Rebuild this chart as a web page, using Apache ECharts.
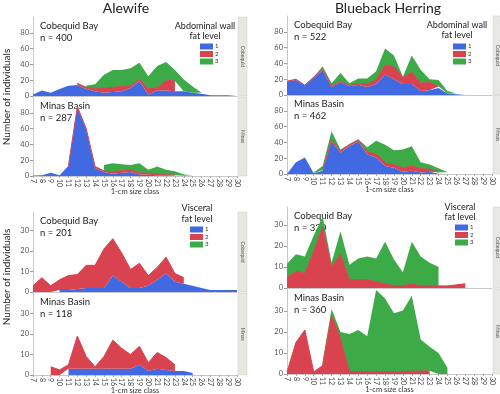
<!DOCTYPE html>
<html><head><meta charset="utf-8">
<script src="https://cdn.jsdelivr.net/npm/echarts@6/dist/echarts.min.js"></script>
<style>html,body{margin:0;padding:0;background:#fff}#c{width:500px;height:394px}</style>
</head><body><div id="c"></div>
<script>
// ---- categories / ticks ----
const sizeClasses = ['7','8','9','10','11','12','13','14','15','16','17','18','19','20','21','22','23','24','25','26','27','28','29','30'];
const ticksAbdominal = [0,20,40,60,80];
const ticksVisceral = [0,10,20,30];
const levelNames = ['1','2','3'];

// ---- Alewife, abdominal wall fat, Cobequid Bay (n=400) ----
const aleAbdCobBlue  = [2,7,4,9,13,14,9,6,4,5,6,10,19,2,7,7,6,6,4,3,1,1,1,1];
const aleAbdCobRed   = [null,null,null,null,null,2,2,3,6,6,6,3,2,7,3,13,13,null,null,null,null,null,null,null];
const aleAbdCobGreen = [null,null,null,null,null,null,2,6,17,22,21,22,21,16,28,23,14,15,8,1,null,null,null,null];
// ---- Alewife, abdominal, Minas Basin (n=287) ----
const aleAbdMinBlue  = [0.5,1,4,1,13,87,59,10,5,3,4,5,2,1.5,1,0.5,0.3,0.3,null,null,null,null,null,null];
const aleAbdMinRed   = [null,null,null,null,0.5,1,1,2,1.5,2,3,3,2,2,1.5,1,1,null,null,null,null,null,null,null];
const aleAbdMinGreen = [null,null,null,null,null,null,null,null,7.5,11,8,6,12,4.5,9.5,6.5,4.7,1.7,1,null,null,null,null,null];
// ---- Blueback, abdominal, Cobequid Bay (n=522) ----
const bbAbdCobBlue  = [17,19,12,22,31,10,16,11,13,10,14,26,20,14,14,5,6,9,2,1,1,null,null,null];
const bbAbdCobRed   = [0.5,1,0.5,0.5,2,1,1,1,1,4,5,12,16,8,15,10,10,2,null,null,null,null,null,null];
const bbAbdCobGreen = [null,null,0.5,0.5,3,4,11,3,7,7,11,21,14,1,21,17,4,8,3,1,null,null,null,null];
// ---- Blueback, abdominal, Minas Basin (n=462) ----
const bbAbdMinBlue  = [0,15,21,1,4,41,27,35,41,25,21,10,8,3,4,2,3,0.3,0.3,null,null,null,null,null];
const bbAbdMinRed   = [null,null,null,null,1,2,2,2,2,3,4,4,4,5,6,5,3,2,null,null,null,null,null,null];
const bbAbdMinGreen = [null,null,null,1,5,11,2,1,1,6,17,23,18,23,25,8,6,5,2,null,null,null,null,null];
// ---- Alewife, visceral fat, Cobequid Bay (n=201) ----
const aleVisCobBlue  = [null,null,null,1,1,1.5,2,2,2,8,5,2,2,3,6,9,5,4,3,2,1,1,1,1];
const aleVisCobRed   = [3,7,3,5,7,7,11,11,19,18,14,9,12,5,6,8,4,3,null,null,null,null,null,null];
const aleVisCobGreen = [null,null,null,null,null,null,null,null,null,null,null,null,null,null,null,null,null,null,null,null,null,null,null,null];
// ---- Alewife, visceral, Minas Basin (n=118) ----
const aleVisMinBlue  = [null,null,null,null,3,3,3,3,3,3,3,3,5,2,3,2.5,2,2,1,null,null,null,null,null];
const aleVisMinRed   = [null,null,4,2.5,2,16,6,1,6,14,10,7,9,4,8,6,3,null,null,null,null,null,null,null];
const aleVisMinGreen = [null,null,null,null,null,null,null,null,null,null,null,null,null,null,null,null,null,null,null,null,null,null,null,null];
// ---- Blueback, visceral, Cobequid Bay (n=320) ----
const bbVisCobBlue  = [null,null,null,null,null,null,null,null,null,null,null,null,null,null,null,null,null,null,null,null,null,null,null,null];
const bbVisCobRed   = [5,8,7,17.5,29,10,16,4,4,4,3,2,1,1,2,1,1,1,1,1.5,2,null,null,null];
const bbVisCobGreen = [6.5,8,8,7.5,5,2,11,7,10,11,11,20,12.5,6.5,20,14,11,9,null,null,null,null,null,null];
// ---- Blueback, visceral, Minas Basin (n=360) ----
const bbVisMinBlue  = [null,null,null,null,null,null,null,null,null,null,null,null,null,null,null,null,null,null,null,null,null,null,null,null];
const bbVisMinRed   = [1,15,21,1,4,28,17,1,1,1,1,1,1,1.2,1.3,1.4,1.5,null,null,null,null,null,null,null];
const bbVisMinGreen = [null,null,null,null,2,3,3,18,20,17,39,35,28,29,36,15,11.5,10,3,null,null,null,null,null];

const COLORS = {'1':'#4169e1','2':'#d8434f','3':'#3caa46'};
const FONT = 'Lato';

// layout of the 8 panels
const panels = [
  {left:33, top:17, width:204, height:79, max:100, ticks:ticksAbdominal, labels:false, strip:'Cobequid', site:'Cobequid Bay', n:'n = 400', data:[aleAbdCobBlue,aleAbdCobRed,aleAbdCobGreen]},
  {left:33, top:97, width:204, height:79, max:100, ticks:ticksAbdominal, labels:true, strip:'Minas', site:'Minas Basin', n:'n = 287', data:[aleAbdMinBlue,aleAbdMinRed,aleAbdMinGreen]},
  {left:287, top:16, width:205, height:79, max:100, ticks:ticksAbdominal, labels:false, strip:'Cobequid', site:'Cobequid Bay', n:'n = 522', data:[bbAbdCobBlue,bbAbdCobRed,bbAbdCobGreen]},
  {left:287, top:95, width:205, height:79, max:100, ticks:ticksAbdominal, labels:true, strip:'Minas', site:'Minas Basin', n:'n = 462', data:[bbAbdMinBlue,bbAbdMinRed,bbAbdMinGreen]},
  {left:33, top:212, width:204, height:80, max:39, ticks:ticksVisceral, labels:false, strip:'Cobequid', site:'Cobequid Bay', n:'n = 201', data:[aleVisCobBlue,aleVisCobRed,aleVisCobGreen]},
  {left:33, top:293, width:204, height:82, max:40, ticks:ticksVisceral, labels:true, strip:'Minas', site:'Minas Basin', n:'n = 118', data:[aleVisMinBlue,aleVisMinRed,aleVisMinGreen]},
  {left:287, top:207, width:205, height:81, max:38.5, ticks:ticksVisceral, labels:false, strip:'Cobequid', site:'Cobequid Bay', n:'n = 320', data:[bbVisCobBlue,bbVisCobRed,bbVisCobGreen]},
  {left:287, top:289, width:205, height:85, max:40.5, ticks:ticksVisceral, labels:true, strip:'Minas', site:'Minas Basin', n:'n = 360', data:[bbVisMinBlue,bbVisMinRed,bbVisMinGreen]}
];

const grid = [], xAxis = [], yAxis = [], series = [], graphic = [];
panels.forEach((p, i) => {
  grid.push({left:p.left, top:p.top, width:p.width, height:p.height, containLabel:false});
  xAxis.push({
    type:'category', gridIndex:i, data:sizeClasses, boundaryGap:false,
    axisLine:{show:true, lineStyle:{color:'#c8c8c8', width:1}},
    axisTick:{show:p.labels, length:2, lineStyle:{color:'#aaa'}},
    axisLabel:{show:p.labels, rotate:-90, interval:0, fontSize:7, color:'#444', margin:3, fontFamily:FONT},
    splitLine:{show:false}
  });
  yAxis.push({
    type:'value', gridIndex:i, min:0, max:p.max,
    axisLine:{show:true, lineStyle:{color:'#c8c8c8'}},
    axisTick:{show:true, length:3, lineStyle:{color:'#999'}, customValues:p.ticks},
    axisLabel:{fontSize:7.5, color:'#555', margin:4, fontFamily:FONT, customValues:p.ticks},
    splitLine:{show:false}
  });
  levelNames.forEach((nm, k) => {
    series.push({
      name:nm, type:'line', data:p.data[k], xAxisIndex:i, yAxisIndex:i,
      stack:'p'+i, symbol:'none', showSymbol:false, connectNulls:false,
      silent:true, color:COLORS[nm],
      lineStyle:{width: nm==='2'?1:0, color:COLORS[nm]},
      areaStyle:{color:COLORS[nm], opacity:1},
      emphasis:{disabled:true}
    });
  });
  // facet strip on the right
  const sx = p.left + p.width + 1;
  graphic.push({type:'rect', silent:true, shape:{x:sx, y:p.top, width:9, height:p.height},
    style:{fill:'#e8e8e2', stroke:'#cfcfc8', lineWidth:0.5}});
  graphic.push({type:'text', silent:true, x:sx+4.5, y:p.top+p.height/2, rotation:-Math.PI/2,
    style:{text:p.strip, fontSize:5, fill:'#555', align:'center', verticalAlign:'middle', fontFamily:FONT}});
  // site labels
  graphic.push({type:'text', silent:true, x:p.left+7, y:p.top+9,
    style:{text:p.site, fontSize:9.5, fill:'#222', align:'left', verticalAlign:'middle', fontFamily:FONT}});
  graphic.push({type:'text', silent:true, x:p.left+7, y:p.top+21,
    style:{text:p.n, fontSize:9.5, fill:'#222', align:'left', verticalAlign:'middle', fontFamily:FONT}});
  if (p.labels) {
    graphic.push({type:'text', silent:true, x:p.left+p.width/2, y:p.top+p.height+16,
      style:{text:'1-cm size class', fontSize:7.5, fill:'#333', align:'center', verticalAlign:'middle', fontFamily:FONT}});
  }
});

function txt(t, x, y, size, rot) {
  return {type:'text', silent:true, x, y, rotation:rot||0,
    style:{text:t, fontSize:size, fill:'#222', align:'center', verticalAlign:'middle', fontFamily:FONT}};
}
graphic.push(txt('Alewife', 126, 8, 14));
graphic.push(txt('Blueback Herring', 388, 8, 14));
graphic.push(txt('Number of individuals', 7, 97, 10, Math.PI/2));
graphic.push(txt('Number of individuals', 7, 277, 10, Math.PI/2));
graphic.push(txt('Abdominal wall', 205, 26, 9));
graphic.push(txt('fat level', 205, 36, 9));
graphic.push(txt('Abdominal wall', 457, 25, 9));
graphic.push(txt('fat level', 457, 35, 9));
graphic.push(txt('Visceral', 197, 208, 9));
graphic.push(txt('fat level', 197, 219, 9));
graphic.push(txt('Visceral', 460, 207, 9));
graphic.push(txt('fat level', 460, 217, 9));

function legendAt(left, top) {
  return {data:levelNames, orient:'vertical', left, top, icon:'rect', itemWidth:13, itemHeight:6,
    itemGap:0.5, padding:0, selectedMode:false,
    textStyle:{fontSize:6, color:'#333', lineHeight:7, fontFamily:FONT, padding:[0,0,0,-3]}};
}

const chart = echarts.init(document.getElementById('c'), null, {renderer:'canvas'});
chart.setOption({
  animation:false,
  backgroundColor:'#fff',
  grid, xAxis, yAxis, series, graphic,
  legend:[legendAt(200,43), legendAt(453,43), legendAt(190,226), legendAt(455,224)]
});
</script></body></html>
